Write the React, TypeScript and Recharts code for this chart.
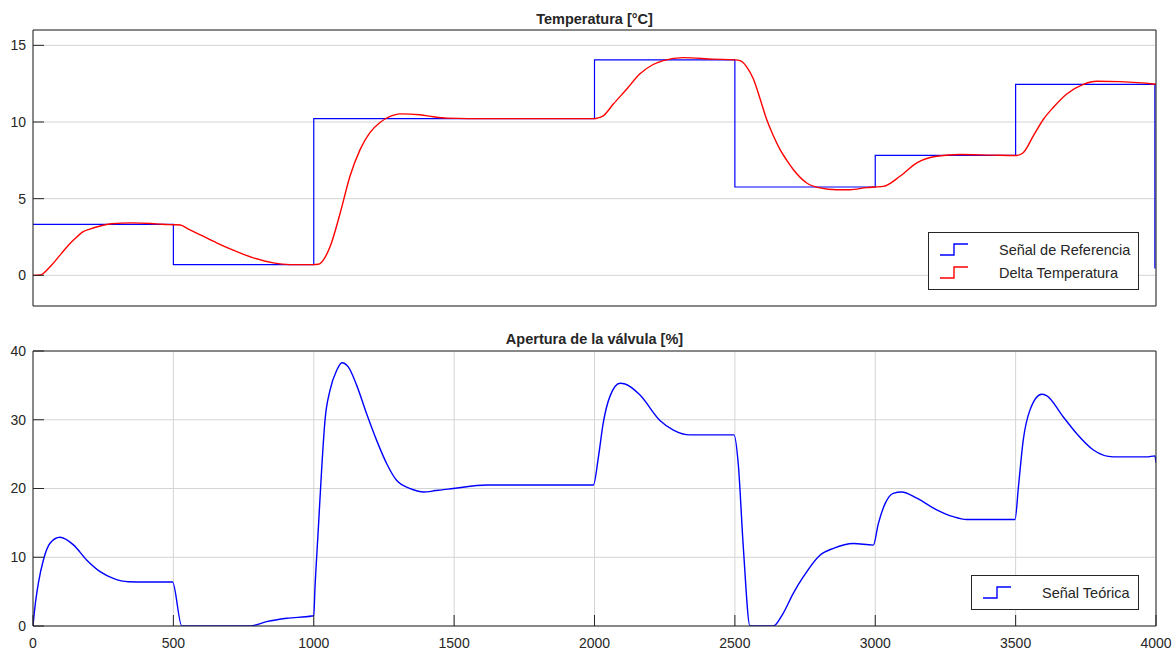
import React from "react";
import { CartesianGrid, Legend, Line, LineChart, XAxis, YAxis } from "recharts";

// señal de referencia (escalones)
const REF_T = [0, 500, 1000, 2000, 2500, 3000, 3500, 3996];
const REF_V = [3.32, 0.7, 10.22, 14.05, 5.76, 7.82, 12.46, 0.45];

// delta temperatura
const TEMP_T = [
  0, 25, 60, 100, 132, 150, 179, 200, 239, 280, 350, 420, 460, 500,
  525, 550, 600, 654, 713, 785, 856, 915, 1000,
  1015, 1022, 1058, 1094, 1129, 1165, 1200, 1236, 1272, 1307, 1378, 1426, 1474, 1550, 2000,
  2010, 2031, 2067, 2115, 2162, 2209, 2245, 2316, 2423, 2500,
  2518, 2542, 2566, 2590, 2613, 2637, 2661, 2685, 2708, 2756, 2803, 2863, 2910, 2969, 3000,
  3029, 3088, 3148, 3219, 3302, 3420, 3504,
  3527, 3563, 3599, 3634, 3682, 3741, 3789, 3872, 3990, 4000,
];
const TEMP_V = [
  0, 0.02, 0.55, 1.4, 2.08, 2.4, 2.85, 3.0, 3.22, 3.36, 3.42, 3.38, 3.33, 3.3,
  3.28, 3.05, 2.6, 2.12, 1.64, 1.14, 0.81, 0.7, 0.7,
  0.72, 0.77, 1.86, 4.05, 6.46, 8.2, 9.31, 9.97, 10.36, 10.53, 10.47, 10.34, 10.25, 10.22, 10.22,
  10.25, 10.4, 11.17, 12.15, 13.14, 13.75, 14.0, 14.2, 14.1, 14.05,
  14.0, 13.6, 12.8, 11.5, 10.18, 9.1, 8.2, 7.5, 6.9, 6.02, 5.7, 5.58, 5.58, 5.72, 5.76,
  5.8, 6.46, 7.34, 7.77, 7.88, 7.84, 7.82,
  8.0, 9.09, 10.18, 10.95, 11.83, 12.46, 12.66, 12.63, 12.48, 12.46,
];

// apertura de la válvula
const VALVE_T = [
  0, 7, 19, 37, 60, 96, 144, 191, 239, 286, 339, 400, 497, 530, 773, 832, 904, 993,
  1000, 1004, 1016, 1028, 1040, 1058, 1082, 1100, 1123, 1153, 1188, 1224, 1260, 1295,
  1312, 1331, 1352, 1372, 1392, 1412, 1432, 1450, 1497, 1616, 1996,
  2014, 2031, 2055, 2091, 2109, 2162, 2233, 2281, 2340, 2497, 2512, 2530, 2554, 2637,
  2672, 2708, 2744, 2803, 2851, 2922, 2993,
  3011, 3035, 3064, 3094, 3148, 3219, 3278, 3326, 3498,
  3510, 3527, 3551, 3593, 3610, 3670, 3717, 3777, 3848, 3967, 3996, 4000,
];
const VALVE_V = [
  0, 2.8, 6.2, 9.6, 12.0, 12.9, 11.8, 9.6, 7.9, 6.93, 6.44, 6.4, 6.4, 0, 0, 0.63, 1.12, 1.45,
  1.5, 5.2, 13.95, 22.7, 29.9, 34.3, 37.2, 38.3, 37.7, 35.0, 30.9, 27.0, 23.6, 21.2,
  20.6, 20.2, 19.85, 19.6, 19.5, 19.55, 19.7, 19.77, 20.0, 20.5, 20.5,
  24.6, 29.5, 33.4, 35.3, 35.2, 33.6, 29.9, 28.5, 27.8, 27.8, 23.6, 11.5, 0, 0,
  1.85, 4.75, 7.17, 10.3, 11.3, 12.0, 11.77,
  14.9, 17.8, 19.3, 19.5, 18.6, 16.9, 15.9, 15.5, 15.5,
  20.25, 27.0, 31.4, 33.7, 33.5, 30.4, 28.0, 25.6, 24.6, 24.6, 24.75, 23.8,
];

const X_TICKS = [0, 500, 1000, 1500, 2000, 2500, 3000, 3500, 4000];
const TEMP_TICKS = [0, 5, 10, 15];
const VALVE_TICKS = [0, 10, 20, 30, 40];

const zip = (ts: number[], vs: number[]) => ts.map((t, i) => ({ t, v: vs[i] }));
const refData = zip(REF_T, REF_V);
const tempData = zip(TEMP_T, TEMP_V);
const valveData = zip(VALVE_T, VALVE_V);

const INK = "#262626";
const GRID = "#d4d4d4";
const TICK = { fontSize: 14, fill: INK };

function StepIcon({ color }: { color: string }) {
  return (
    <svg width={28} height={13} style={{ display: "block" }}>
      <path d="M0,12 H14 V1 H28" fill="none" stroke={color} strokeWidth={1.4} />
    </svg>
  );
}

function LegendBox({ payload }: { payload?: any[] }) {
  return (
    <div
      style={{
        border: `1px solid ${INK}`,
        background: "#fff",
        boxSizing: "border-box",
        padding: "5px 0",
      }}
    >
      {(payload ?? []).map((p) => (
        <div key={p.value} style={{ display: "flex", alignItems: "center", height: 23 }}>
          <div style={{ marginLeft: 11 }}>
            <StepIcon color={p.color} />
          </div>
          <span style={{ marginLeft: 31, fontSize: 14.5, color: INK, whiteSpace: "nowrap" }}>{p.value}</span>
        </div>
      ))}
    </div>
  );
}

function Frame({ yDomain, yTicks, showXLabels }: { yDomain: number[]; yTicks: number[]; showXLabels: boolean }) {
  return [
    <CartesianGrid key="g" stroke={GRID} />,
    <XAxis
      key="xb"
      dataKey="t"
      type="number"
      domain={[0, 4000]}
      ticks={X_TICKS}
      height={showXLabels ? 28 : 24}
      tick={showXLabels ? TICK : false}
      tickSize={-11}
      tickMargin={23}
      axisLine={{ stroke: INK }}
      tickLine={{ stroke: INK }}
      allowDataOverflow
    />,
    <XAxis
      key="xt"
      xAxisId="top"
      orientation="top"
      dataKey="t"
      type="number"
      domain={[0, 4000]}
      ticks={X_TICKS}
      height={1}
      tick={false}
      tickSize={-11}
      axisLine={{ stroke: INK }}
      tickLine={{ stroke: INK }}
    />,
    <YAxis
      key="yl"
      type="number"
      domain={yDomain}
      ticks={yTicks}
      width={33}
      tick={TICK}
      tickSize={-11}
      tickMargin={18}
      axisLine={{ stroke: INK }}
      tickLine={{ stroke: INK }}
      allowDataOverflow
    />,
    <YAxis
      key="yr"
      yAxisId="right"
      orientation="right"
      type="number"
      domain={yDomain}
      ticks={yTicks}
      width={1}
      tick={false}
      tickSize={-11}
      axisLine={{ stroke: INK }}
      tickLine={{ stroke: INK }}
    />,
  ];
}

const titleStyle: React.CSSProperties = {
  position: "absolute",
  left: 33,
  width: 1123,
  textAlign: "center",
  fontWeight: "bold",
  fontSize: 14.5,
  lineHeight: "16px",
  color: INK,
};

export default function App() {
  return (
    <div
      style={{
        position: "absolute",
        left: 0,
        top: 0,
        width: 1176,
        height: 654,
        background: "#fff",
        fontFamily: "'Liberation Sans', Arial, sans-serif",
      }}
    >
      <div style={{ ...titleStyle, top: 11 }}>Temperatura [°C]</div>
      <div style={{ position: "absolute", left: 0, top: 0 }}>
        <LineChart width={1176} height={330} margin={{ top: 29, right: 19, bottom: 0, left: 0 }}>
          {Frame({ yDomain: [-2, 16], yTicks: TEMP_TICKS, showXLabels: false })}
          <Line
            data={refData}
            dataKey="v"
            name="Señal de Referencia"
            type="stepAfter"
            stroke="#0000ff"
            strokeWidth={1.2}
            dot={false}
            activeDot={false}
            isAnimationActive={false}
          />
          <Line
            data={tempData}
            dataKey="v"
            name="Delta Temperatura"
            type="monotone"
            stroke="#ff0000"
            strokeWidth={1.4}
            dot={false}
            activeDot={false}
            isAnimationActive={false}
          />
          <Legend
            layout="horizontal"
            verticalAlign="middle"
            align="center"
            itemSorter="dataKey"
            wrapperStyle={{ left: 928, top: 232, width: 211 }}
            content={(props: any) => <LegendBox payload={props.payload} />}
          />
        </LineChart>
      </div>

      <div style={{ ...titleStyle, top: 331 }}>Apertura de la válvula [%]</div>
      <div style={{ position: "absolute", left: 0, top: 330 }}>
        <LineChart width={1176} height={324} margin={{ top: 20, right: 19, bottom: 0, left: 0 }}>
          {Frame({ yDomain: [0, 40], yTicks: VALVE_TICKS, showXLabels: true })}
          <Line
            data={valveData}
            dataKey="v"
            name="Señal Teórica"
            type="monotone"
            stroke="#0000ff"
            strokeWidth={1.4}
            dot={false}
            activeDot={false}
            isAnimationActive={false}
          />
          <Legend
            layout="horizontal"
            verticalAlign="middle"
            align="center"
            wrapperStyle={{ left: 971, top: 245, width: 168 }}
            content={(props: any) => <LegendBox payload={props.payload} />}
          />
        </LineChart>
      </div>
    </div>
  );
}
